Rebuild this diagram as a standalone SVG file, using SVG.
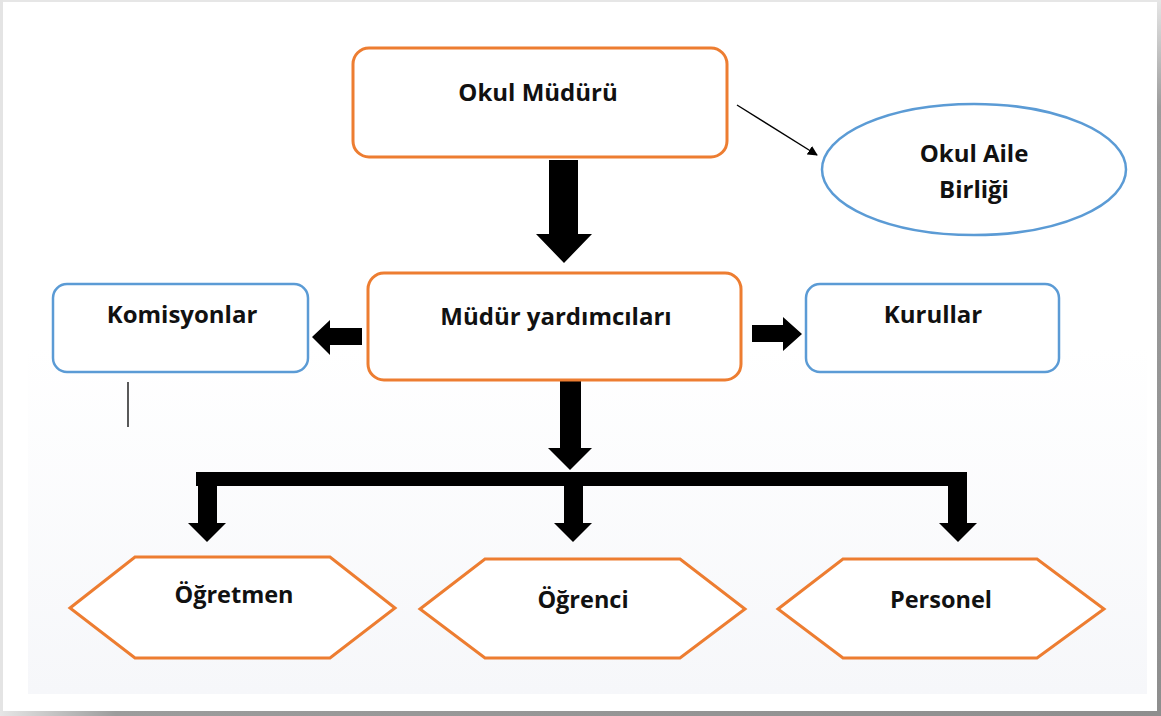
<svg xmlns="http://www.w3.org/2000/svg" width="1161" height="716" viewBox="0 0 1161 716">
  <defs>
    <linearGradient id="bg" x1="0" y1="0" x2="0" y2="1">
      <stop offset="0" stop-color="#ffffff"/>
      <stop offset="0.5" stop-color="#ffffff"/>
      <stop offset="1" stop-color="#f6f7fa"/>
    </linearGradient>
    <linearGradient id="shadowR" x1="0" y1="0" x2="0" y2="1">
      <stop offset="0" stop-color="#e6e6e6"/>
      <stop offset="0.15" stop-color="#9c9c9c"/>
      <stop offset="1" stop-color="#8e8e8e"/>
    </linearGradient>
    <linearGradient id="shadowB" x1="0" y1="0" x2="1" y2="0">
      <stop offset="0" stop-color="#e6e6e6"/>
      <stop offset="0.1" stop-color="#9c9c9c"/>
      <stop offset="1" stop-color="#8e8e8e"/>
    </linearGradient>
    <marker id="thinHead" markerWidth="10" markerHeight="10" refX="9" refY="5" orient="auto" markerUnits="userSpaceOnUse">
      <path d="M0,0 L10,5 L0,10 Z" fill="#000"/>
    </marker>
    <style>
      .orange { fill: #ffffff; stroke: #ED7D31; stroke-width: 3; }
      .blue { fill: #ffffff; stroke: #5B9BD5; stroke-width: 2.5; }
      .lbl { font-family: "Open Sans", "Liberation Sans", sans-serif; font-weight: bold; font-size: 24px; fill: #111; text-anchor: middle; }
      .hexlbl { font-size: 23.5px; }
      .fat { fill: #000; }
    </style>
  </defs>

  <!-- page frame -->
  <rect x="0" y="0" width="1161" height="716" fill="#ffffff"/>
  <rect x="28" y="0" width="1119" height="694" fill="url(#bg)"/>
  <rect x="0" y="0" width="1161" height="2" fill="#e6e6e6"/>
  <rect x="0" y="0" width="3" height="716" fill="#e4e4e4"/>
  <rect x="1157" y="0" width="4" height="716" fill="url(#shadowR)"/>
  <rect x="0" y="711" width="1161" height="5" fill="url(#shadowB)"/>

  <!-- connectors -->
  <g id="connectors">
    <polygon class="fat" points="549,160 578,160 578,234 592,234 564,263 536,234 549,234"/>
    <polygon class="fat" points="560,380 581,380 581,448 592,448 570,470 548,448 560,448"/>
    <polygon class="fat" points="362,328 362,345 330,345 330,355 312,337 330,320 330,328"/>
    <polygon class="fat" points="752,325 752,342 783,342 783,351 802,334 783,317 783,325"/>
    <rect class="fat" x="196" y="472" width="771" height="14"/>
    <polygon class="fat" points="198,486 217,486 217,523 226,523 207,542 188,523 198,523"/>
    <polygon class="fat" points="564,486 583,486 583,523 592,523 573,542 554,523 564,523"/>
    <polygon class="fat" points="948,486 967,486 967,523 977,523 958,542 939,523 948,523"/>
    <line x1="737" y1="105" x2="817" y2="155" stroke="#000" stroke-width="1.3" marker-end="url(#thinHead)"/>
    <line x1="128" y1="382" x2="128" y2="427" stroke="#000" stroke-width="1.3"/>
  </g>

  <g id="okul-muduru">
    <rect class="orange" x="353" y="48" width="374" height="109" rx="16"/>
    <text class="lbl" x="538" y="101">Okul Müdürü</text>
  </g>

  <g id="okul-aile-birligi">
    <ellipse class="blue" cx="974" cy="169.5" rx="152" ry="65.5"/>
    <text class="lbl" x="974" y="162">Okul Aile</text>
    <text class="lbl" x="974" y="198">Birliği</text>
  </g>

  <g id="mudur-yardimcilari">
    <rect class="orange" x="368" y="273" width="373" height="107" rx="16"/>
    <text class="lbl" x="556" y="325">Müdür yardımcıları</text>
  </g>

  <g id="komisyonlar">
    <rect class="blue" x="53" y="284" width="255" height="88" rx="14"/>
    <text class="lbl" x="182" y="323">Komisyonlar</text>
  </g>

  <g id="kurullar">
    <rect class="blue" x="806" y="284" width="253" height="88" rx="14"/>
    <text class="lbl" x="933" y="323">Kurullar</text>
  </g>

  <g id="ogretmen">
    <polygon class="orange" points="70,608 135,557 330,557 395,608 330,658 135,658"/>
    <text class="lbl hexlbl" x="234" y="603">Öğretmen</text>
  </g>

  <g id="ogrenci">
    <polygon class="orange" points="420,609 485,559 680,559 745,609 680,658 485,658"/>
    <text class="lbl hexlbl" x="583" y="608">Öğrenci</text>
  </g>

  <g id="personel">
    <polygon class="orange" points="778,609 843,559 1037,559 1104,609 1037,658 843,658"/>
    <text class="lbl hexlbl" x="941" y="608">Personel</text>
  </g>
</svg>
